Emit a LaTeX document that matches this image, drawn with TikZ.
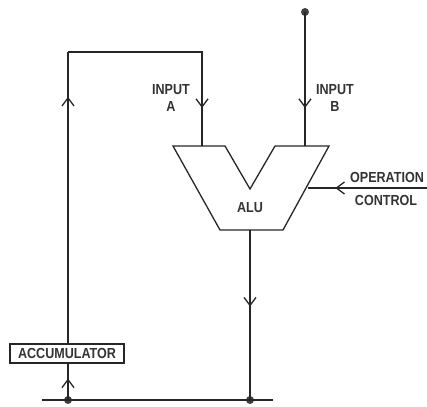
\documentclass[tikz,border=0pt]{standalone}
\usepackage{fontspec}
\setmainfont{Liberation Sans}[FakeStretch=0.86]
\usetikzlibrary{arrows.meta,decorations.markings}
\tikzset{
  wire/.style={line width=1.3pt, draw=black!85},
  arr/.style={postaction={decorate,decoration={markings,mark=at position #1 with {\arrow{Straight Barb[length=8pt,width=12pt,line width=1.3pt]}}}}},
  lbl/.style={font=\fontsize{14.6}{17}\selectfont\bfseries, text=black!80, inner sep=0pt, align=center},
  dot/.style={circle, fill=black!75, inner sep=0pt, minimum size=8pt},
}
\begin{document}
\begin{tikzpicture}[x=1pt,y=-1pt]
\useasboundingbox (0,0) rectangle (427,406);
% coordinates
\coordinate (tl) at (68,52);
\coordinate (tr) at (202,52);
\coordinate (ina) at (202,146);
\coordinate (inb) at (305,146);
\coordinate (opr) at (427,188);
\coordinate (opl) at (308,188);
\coordinate (out) at (250,230);
\coordinate (busL) at (42,400);
\coordinate (busR) at (273,400);
% ALU shape
\draw[wire, line join=miter] (173,146) -- (225,146) -- (250,189) -- (275,146) -- (329,146) -- (283,230) -- (220,230) -- cycle;
\node[lbl] (alu) at (250,208) {ALU};
% accumulator
\node[draw, line width=1.3pt, draw=black!85, minimum width=114pt, minimum height=19pt, inner sep=0pt, font=\fontsize{14.6}{15}\selectfont\bfseries, text=black!80] (acc) at (67,353.5) {ACCUMULATOR};
% dots
\node[dot] (dA) at (68,400) {};
\node[dot] (dB) at (250,400) {};
\node[dot] (dT) at (305,12) {};
% wires
\draw[wire] (busL) -- (busR);
\draw[wire, arr=0.59] (dA.center) -- (acc.south -| dA);
\draw[wire, arr=0.846] (acc.north -| dA) -- (tl);
\draw[wire, arr=0.833] (tl) -- (tr) -- (ina);
\draw[wire, arr=0.716] (dT.center) -- (inb);
\draw[wire, arr=0.45] (out) -- (dB.center);
\draw[wire, arr=0.77] (opr) -- (opl);
% labels
\node[lbl] (la) at (171,98) {INPUT\\A};
\node[lbl] (lb) at (335,98) {INPUT\\B};
\node[lbl] (lop) at (387,177) {OPERATION};
\node[lbl] (lct) at (386,200) {CONTROL};
\end{tikzpicture}
\end{document}
